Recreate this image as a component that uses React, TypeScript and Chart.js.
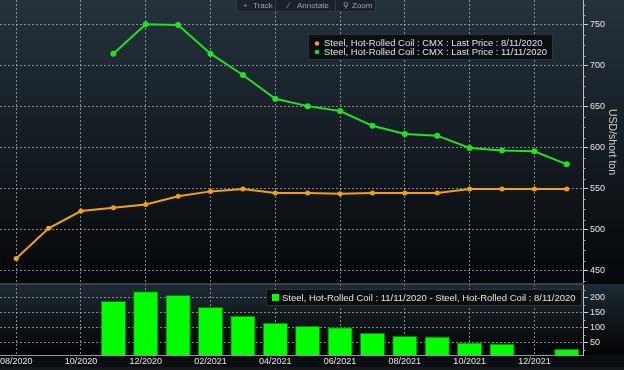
import React, { useEffect, useRef } from "react";
import { Chart, registerables } from "chart.js";

Chart.register(...registerables);

const months = [
  "08/2020", "09/2020", "10/2020", "11/2020", "12/2020", "01/2021",
  "02/2021", "03/2021", "04/2021", "05/2021", "06/2021", "07/2021",
  "08/2021", "09/2021", "10/2021", "11/2021", "12/2021", "01/2022",
];
const priceAug = [465, 502, 523, 527, 531, 541, 547, 550, 545, 545, 544, 545, 545, 545, 550, 550, 550, 550];
const priceNov = [null, null, null, 715, 751, 750, 715, 689, 660, 651, 645, 627, 617, 615, 600, 597, 596, 580];
const spread = [null, null, null, 188, 220, 208, 168, 139, 116, 105, 101, 83, 72, 70, 50, 47, null, 30];
const priceTicks = [450, 500, 550, 600, 650, 700, 750];
const spreadTicks = [50, 100, 150, 200];
const legendPrice = [
  "Steel, Hot-Rolled Coil : CMX : Last Price : 8/11/2020",
  "Steel, Hot-Rolled Coil : CMX : Last Price : 11/11/2020",
];
const legendSpread = "Steel, Hot-Rolled Coil : 11/11/2020 - Steel, Hot-Rolled Coil : 8/11/2020";
const axisTitle = "USD/short ton";
const toolbarItems = [
  { icon: "+", label: "Track" },
  { icon: "\u2215", label: "Annotate" },
  { icon: "\u26B2", label: "Zoom" },
];

const ORANGE = "#f5a012";
const GREEN = "#22e022";
const BAR = "#00ff00";
const FONT = "'Liberation Sans', Arial, sans-serif";
const DOT = "rgba(170,176,182,0.75)";
const LABEL = "#e4e4e4";

function fitFont(ctx: CanvasRenderingContext2D, text: string, target: number) {
  ctx.font = `10px ${FONT}`;
  const w = ctx.measureText(text).width;
  const size = Math.min(11, Math.max(7, (10 * target) / w));
  return `${size.toFixed(2)}px ${FONT}`;
}

function withMinor(majors: number[], step: number, lo: number, hi: number) {
  const out: { value: number }[] = [];
  for (let v = majors[0] - step * Math.floor((majors[0] - lo) / step); v <= hi; v += step) {
    out.push({ value: v });
  }
  return out;
}

const bgPlugin = {
  id: "bg",
  beforeDraw(chart: any) {
    const { ctx, width, height, scales } = chart;
    const ys = scales.y;
    const y2 = scales.y2;
    ctx.save();
    ctx.fillStyle = "#0b0e11";
    ctx.fillRect(0, 0, width, height);
    let g = ctx.createLinearGradient(0, ys.top, 0, ys.bottom);
    g.addColorStop(0, "#25323c");
    g.addColorStop(1, "#05070a");
    ctx.fillStyle = g;
    ctx.fillRect(0, ys.top, width, ys.bottom - ys.top);
    g = ctx.createLinearGradient(0, y2.top, 0, y2.bottom);
    g.addColorStop(0, "#1f2a33");
    g.addColorStop(1, "#020304");
    ctx.fillStyle = g;
    ctx.fillRect(0, y2.top, width, y2.bottom - y2.top);
    ctx.fillStyle = "#15181b";
    ctx.fillRect(0, height - 3, width, 3);
    ctx.restore();
  },
  afterDraw(chart: any) {
    const { ctx, scales } = chart;
    const ys = scales.y;
    const y2 = scales.y2;
    ctx.save();
    // minor tick marks
    ctx.strokeStyle = "#a8a8a8";
    ctx.lineWidth = 1;
    ctx.beginPath();
    [[ys, priceTicks], [y2, spreadTicks]].forEach(([s, majors]: any) => {
      s.ticks.forEach((t: any) => {
        if (majors.includes(t.value)) return;
        const py = Math.round(s.getPixelForValue(t.value)) + 0.5;
        if (py < s.top || py > s.bottom) return;
        ctx.moveTo(s.left, py);
        ctx.lineTo(s.left + 2.5, py);
      });
    });
    ctx.stroke();

    // separator between panels
    ctx.fillStyle = "#3a424a";
    ctx.fillRect(0, ys.bottom - 1, ys.left + 1, 2);

    // toolbar
    ctx.fillStyle = "#1a232c";
    ctx.strokeStyle = "#303b46";
    ctx.lineWidth = 1;
    ctx.fillRect(236, 0, 140, 12);
    ctx.strokeRect(236.5, -0.5, 139, 12);
    ctx.beginPath();
    ctx.moveTo(275.5, 0);
    ctx.lineTo(275.5, 12);
    ctx.moveTo(335.5, 0);
    ctx.lineTo(335.5, 12);
    ctx.stroke();
    ctx.fillStyle = "#9aa4ad";
    ctx.textBaseline = "middle";
    ctx.font = `8px ${FONT}`;
    const xs = [[243, 253], [288, 297], [343, 352]];
    toolbarItems.forEach((it, i) => {
      ctx.fillText(it.icon, xs[i][0], 6);
      ctx.fillText(it.label, xs[i][1], 6);
    });

    // upper legend
    ctx.fillStyle = "rgba(8,11,14,0.88)";
    ctx.strokeStyle = "#2c3339";
    ctx.fillRect(308, 34, 245, 26);
    ctx.strokeRect(308.5, 34.5, 244, 25);
    ctx.font = fitFont(ctx, legendPrice[1], 223);
    ctx.textBaseline = "middle";
    const rows = [43.5, 52];
    [ORANGE, GREEN].forEach((c, i) => {
      ctx.fillStyle = c;
      ctx.beginPath();
      ctx.arc(317, rows[i], 2.2, 0, Math.PI * 2);
      ctx.fill();
      ctx.fillStyle = "#e0e0e0";
      ctx.fillText(legendPrice[i], 324, rows[i]);
    });

    // lower legend
    ctx.fillStyle = "rgba(8,11,14,0.88)";
    ctx.strokeStyle = "#2c3339";
    ctx.fillRect(266, 289, 316, 17);
    ctx.strokeRect(266.5, 289.5, 315, 16);
    ctx.fillStyle = BAR;
    ctx.fillRect(272, 294, 7, 7);
    ctx.font = fitFont(ctx, legendSpread, 294);
    ctx.fillStyle = "#e0e0e0";
    ctx.fillText(legendSpread, 282, 298);
    ctx.restore();
  },
};

export default function App() {
  const ref = useRef<HTMLCanvasElement | null>(null);

  useEffect(() => {
    document.body.style.margin = "0";
    document.body.style.background = "#000";
    const canvas = ref.current;
    if (!canvas) return;

    const yCommon = (majors: number[]) => ({
      type: "linear",
      position: "right",
      stack: "panels",
      afterFit: (s: any) => {
        s.width = 41;
        s.paddingTop = 0;
        s.paddingBottom = 0;
      },
      grid: {
        color: (c: any) => (c.tick && majors.includes(c.tick.value) ? DOT : "transparent"),
        tickColor: (c: any) => (c.tick && majors.includes(c.tick.value) ? "#d0d0d0" : "transparent"),
        tickLength: 5,
        drawTicks: true,
      },
      border: { display: true, color: "#c4c4c4", width: 1, dash: [2, 2] },
      ticks: {
        autoSkip: false,
        padding: 2,
        color: LABEL,
        font: { family: FONT, size: 9 },
        callback: (v: any) => (majors.includes(Number(v)) ? String(v) : ""),
      },
    });

    const chart = new Chart(canvas, {
      type: "line",
      data: {
        labels: months,
        datasets: [
          {
            type: "line",
            label: legendPrice[0],
            data: priceAug,
            yAxisID: "y",
            borderColor: ORANGE,
            backgroundColor: ORANGE,
            pointBackgroundColor: ORANGE,
            pointBorderColor: ORANGE,
            borderWidth: 2,
            pointRadius: 2.5,
            pointBorderWidth: 0,
            tension: 0,
          },
          {
            type: "line",
            label: legendPrice[1],
            data: priceNov,
            yAxisID: "y",
            borderColor: GREEN,
            backgroundColor: GREEN,
            pointBackgroundColor: GREEN,
            pointBorderColor: GREEN,
            borderWidth: 2,
            pointRadius: 3,
            pointBorderWidth: 0,
            tension: 0,
          },
          {
            type: "bar",
            label: legendSpread,
            data: spread,
            yAxisID: "y2",
            backgroundColor: BAR,
            borderColor: "#0a7a0a",
            borderWidth: 1,
            barPercentage: 0.78,
            categoryPercentage: 1,
          } as any,
        ],
      },
      options: {
        responsive: false,
        maintainAspectRatio: false,
        animation: false,
        layout: { padding: 0, autoPadding: false },
        plugins: {
          legend: { display: false },
          tooltip: { enabled: false },
        },
        scales: {
          x: {
            type: "category",
            offset: true,
            afterFit: (s: any) => {
              s.height = 15;
              s.paddingLeft = 0;
              s.paddingRight = 0;
            },
            grid: {
              offset: false,
              drawTicks: false,
              color: (c: any) => (c.index % 2 === 0 ? DOT : "transparent"),
              lineWidth: 1,
            },
            border: { display: true, color: "#8e9399", dash: [2, 2] },
            ticks: {
              autoSkip: false,
              maxRotation: 0,
              minRotation: 0,
              padding: 1,
              color: LABEL,
              font: { family: FONT, size: 9 },
              callback: (_v: any, i: number) => (i % 2 === 0 ? months[i] : ""),
            },
          },
          y: {
            ...yCommon(priceTicks),
            stackWeight: 284,
            min: 434,
            max: 780.5,
            afterBuildTicks: (s: any) => {
              s.ticks = withMinor(priceTicks, 12.5, 434, 780.5);
            },
            title: {
              display: true,
              text: axisTitle,
              color: "#d0d0d0",
              font: { family: FONT, size: 10.5 },
              padding: { top: 6, bottom: 0 },
            },
          },
          y2: {
            ...yCommon(spreadTicks),
            stackWeight: 71,
            min: 9,
            max: 244,
            afterBuildTicks: (s: any) => {
              s.ticks = withMinor(spreadTicks, 25, 9, 244);
            },
          },
        },
      } as any,
      plugins: [bgPlugin],
    });

    return () => chart.destroy();
  }, []);

  return (
    <div style={{ width: 624, height: 370, background: "#000" }}>
      <canvas ref={ref} width={624} height={370} style={{ display: "block" }} />
    </div>
  );
}
